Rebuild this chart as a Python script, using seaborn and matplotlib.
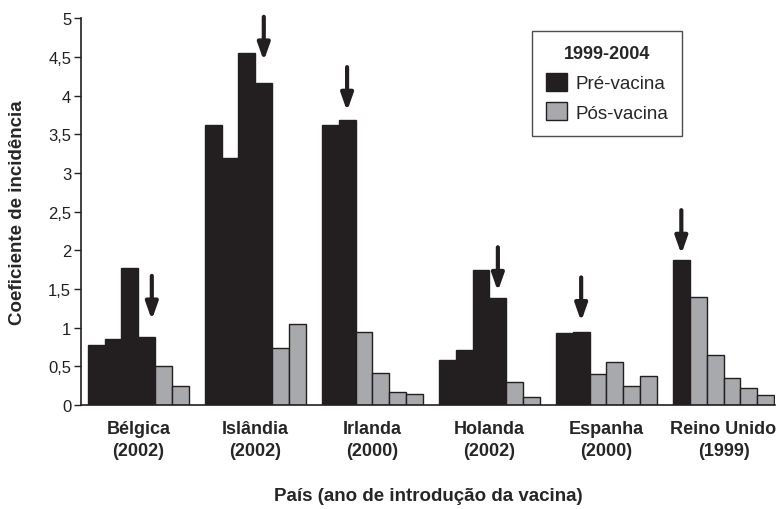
import matplotlib
matplotlib.use("Agg")
import matplotlib.pyplot as plt
from matplotlib.patches import Patch
import seaborn as sns
import pandas as pd

countries = ["Bélgica", "Islândia", "Irlanda", "Holanda", "Espanha", "Reino Unido"]
intro_years = [2002, 2002, 2000, 2002, 2000, 1999]
years = [1999, 2000, 2001, 2002, 2003, 2004]
values = {
    "Bélgica":     [0.78, 0.86, 1.77, 0.88, 0.51, 0.24],
    "Islândia":    [3.62, 3.20, 4.55, 4.17, 0.74, 1.05],
    "Irlanda":     [3.62, 3.68, 0.94, 0.41, 0.17, 0.14],
    "Holanda":     [0.58, 0.71, 1.75, 1.39, 0.30, 0.11],
    "Espanha":     [0.93, 0.94, 0.40, 0.56, 0.25, 0.38],
    "Reino Unido": [1.87, 1.40, 0.65, 0.35, 0.22, 0.13],
}
arrow_tips = [1.10, 4.45, 3.80, 1.47, 1.08, 1.95]
arrow_len = 0.57
yticks = [0, 0.5, 1, 1.5, 2, 2.5, 3, 3.5, 4, 4.5, 5]
ytick_labels = ["0", "0,5", "1", "1,5", "2", "2,5", "3", "3,5", "4", "4,5", "5"]

rows = []
for c, iy in zip(countries, intro_years):
    for y, v in zip(years, values[c]):
        rows.append({"pais": c, "ano": y, "valor": v,
                     "status": "Pré-vacina" if y <= iy else "Pós-vacina"})
df = pd.DataFrame(rows)

DARK = "#231f20"
LIGHT = "#a7a9ac"

sns.set_theme(style="white")
plt.rcParams["font.family"] = ["Liberation Sans", "DejaVu Sans"]

fig = plt.figure(figsize=(7.8, 5.1), dpi=100)
ax = fig.add_axes([0.1038, 0.2039, 0.8898, 0.7581])

width = 0.865
sns.barplot(data=df, x="pais", y="valor", hue="ano", order=countries,
            hue_order=years, width=width, dodge=True, legend=False,
            edgecolor=DARK, linewidth=1.0, ax=ax, errorbar=None)

for j, cont in enumerate(ax.containers):
    for i, bar in enumerate(cont):
        pre = years[j] <= intro_years[i]
        bar.set_facecolor(DARK if pre else LIGHT)
        bar.set_edgecolor(DARK)

bw = width / len(years)
for i, (iy, tip) in enumerate(zip(intro_years, arrow_tips)):
    k = years.index(iy)
    x = i - width / 2 + bw * (k + 0.5)
    if i == 0:
        x += bw * 0.3
    ax.annotate("", xy=(x, tip), xytext=(x, tip + arrow_len),
                arrowprops=dict(arrowstyle="-|>,head_width=0.3,head_length=0.85",
                                lw=3.0, color=DARK, shrinkA=0, shrinkB=0,
                                mutation_scale=12))

ax.set_xlim(-0.49, 5.44)
ax.set_ylim(0, 5)
ax.set_yticks(yticks)
ax.set_yticklabels(ytick_labels, fontsize=12)
ax.set_xticks(range(len(countries)))
ax.set_xticklabels([f"{c}\n({y})" for c, y in zip(countries, intro_years)],
                   fontsize=13, fontweight="bold")
ax.tick_params(axis="x", length=0, pad=11)
ax.tick_params(axis="y", length=5, width=1, direction="out", left=True, pad=2, colors="#231f20")
for lab in ax.get_xticklabels():
    lab.set_linespacing(1.4)

ax.set_ylabel("Coeficiente de incidência", fontsize=13.5, fontweight="bold")
ax.yaxis.set_label_coords(-0.079, 0.5)
ax.set_xlabel("País (ano de introdução da vacina)", fontsize=13.5, fontweight="bold",
              labelpad=20)

for s in ["top", "right"]:
    ax.spines[s].set_visible(False)
for s in ["left", "bottom"]:
    ax.spines[s].set_color(DARK)
    ax.spines[s].set_linewidth(1.2)

handles = [Patch(facecolor=DARK, edgecolor=DARK, label="Pré-vacina"),
           Patch(facecolor=LIGHT, edgecolor=DARK, label="Pós-vacina")]
leg = ax.legend(handles=handles, title="1999-2004", loc="upper left",
                bbox_to_anchor=(0.65, 0.967), fontsize=13.5, title_fontsize=13,
                frameon=True, fancybox=False, edgecolor=DARK,
                handlelength=1.1, handleheight=1.1, borderpad=0.75,
                labelspacing=0.55, handletextpad=0.45, borderaxespad=0)
leg.get_title().set_fontweight("bold")
leg.get_frame().set_linewidth(1.0)

fig.savefig("out.png", dpi=100)
